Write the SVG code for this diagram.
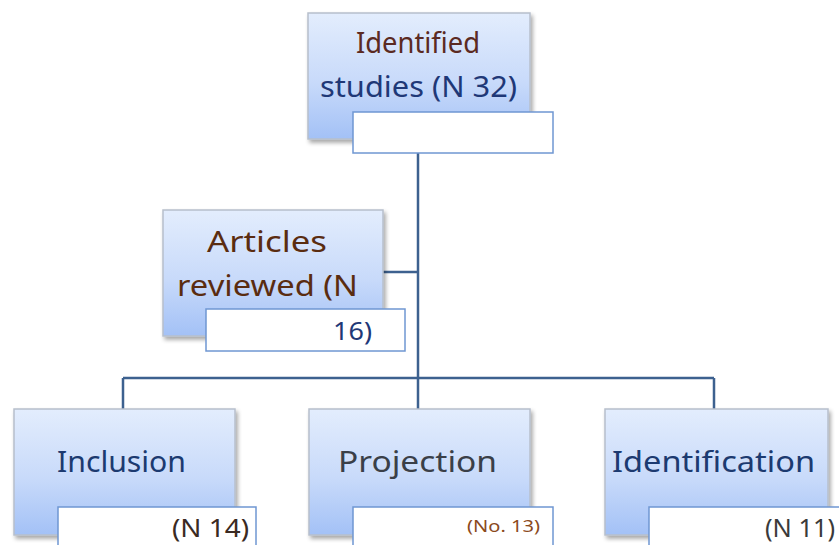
<svg xmlns="http://www.w3.org/2000/svg" width="839" height="545" viewBox="0 0 839 545">
<defs>
<linearGradient id="g" x1="0" y1="0" x2="0" y2="1">
<stop offset="0" stop-color="#e3edfd"/>
<stop offset="0.55" stop-color="#c8dafa"/>
<stop offset="1" stop-color="#a3c1f6"/>
</linearGradient>
<filter id="sh" x="-10%" y="-10%" width="125%" height="130%">
<feGaussianBlur in="SourceAlpha" stdDeviation="2"/>
<feOffset dx="2" dy="3"/>
<feComponentTransfer><feFuncA type="linear" slope="0.35"/></feComponentTransfer>
<feMerge><feMergeNode/><feMergeNode in="SourceGraphic"/></feMerge>
</filter>
</defs>
<style>
.box{fill:url(#g);stroke:#b7bfcc;stroke-width:1.5;filter:url(#sh)}
.lab{fill:#ffffff;stroke:#6f97d2;stroke-width:1.5}
.t{font-family:"Noto Sans","Open Sans",sans-serif;font-size:29px;text-anchor:middle}
.n{font-family:"Noto Sans","Open Sans",sans-serif;font-size:25px;text-anchor:end}
.c{fill:none;stroke:#3d618f;stroke-width:2.5}
</style>
<g id="connectors">
<path class="c" d="M418 153V378M383 272H418M123 378H714M123 378V409M418 378V409M714 378V409"/>
</g>
<g id="identified">
<rect class="box" x="308" y="13" width="222" height="126"/>
<rect class="lab" x="353" y="112" width="200" height="41"/>
<text class="t" x="418" y="53" fill="#5b2a22" textLength="124" lengthAdjust="spacingAndGlyphs">Identified</text>
<text class="t" x="418.5" y="97" fill="#1f3877" textLength="197" lengthAdjust="spacingAndGlyphs">studies (N 32)</text>
</g>
<g id="articles">
<rect class="box" x="163" y="210" width="220" height="126"/>
<rect class="lab" x="206" y="309" width="199" height="42"/>
<text class="t" x="267" y="252" fill="#5a2c10" textLength="120" lengthAdjust="spacingAndGlyphs">Articles</text>
<text class="t" x="267.5" y="296" fill="#5a2c10" textLength="181" lengthAdjust="spacingAndGlyphs">reviewed (N</text>
<text class="n" x="372" y="340" fill="#1f3877" textLength="39" lengthAdjust="spacingAndGlyphs">16)</text>
</g>
<g id="inclusion">
<rect class="box" x="14" y="409" width="221" height="126"/>
<rect class="lab" x="58" y="507" width="198" height="45"/>
<text class="t" x="121.5" y="472" fill="#1c3a70" textLength="129" lengthAdjust="spacingAndGlyphs">Inclusion</text>
<text class="n" x="249" y="537" fill="#3a2a22" textLength="77" lengthAdjust="spacingAndGlyphs">(N 14)</text>
</g>
<g id="projection">
<rect class="box" x="309" y="409" width="221" height="126"/>
<rect class="lab" x="353" y="507" width="200" height="45"/>
<text class="t" x="417.5" y="472" fill="#3a3f48" textLength="159" lengthAdjust="spacingAndGlyphs">Projection</text>
<text class="n" x="540" y="532" fill="#8b4a1c" style="font-size:17px" textLength="73" lengthAdjust="spacingAndGlyphs">(No. 13)</text>
</g>
<g id="identification">
<rect class="box" x="605" y="409" width="223" height="126"/>
<rect class="lab" x="649" y="507" width="200" height="45"/>
<text class="t" x="713.5" y="472" fill="#1c3a70" textLength="203" lengthAdjust="spacingAndGlyphs">Identification</text>
<text class="n" x="835" y="537" fill="#3a3a3a" textLength="70" lengthAdjust="spacingAndGlyphs">(N 11)</text>
</g>
</svg>
